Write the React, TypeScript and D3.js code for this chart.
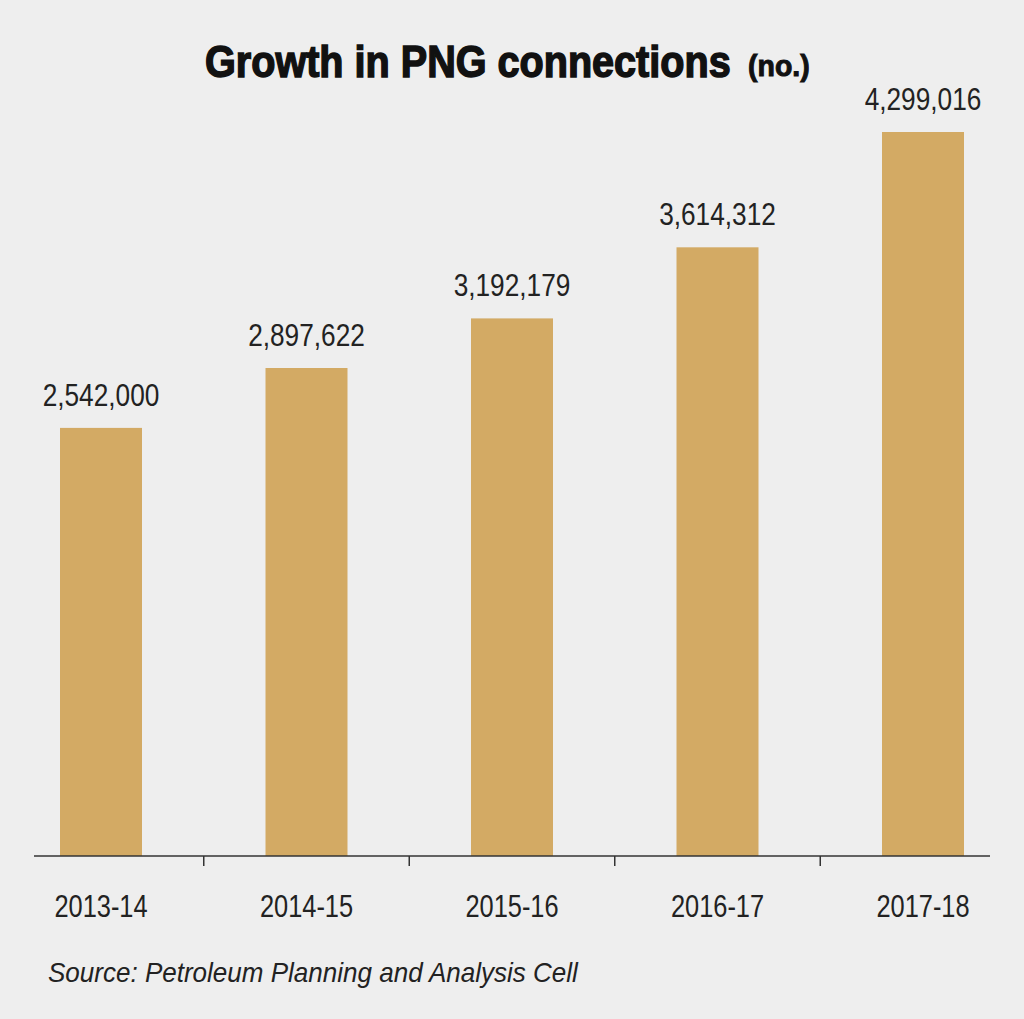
import { useEffect, useRef } from "react";
import * as d3 from "d3";

const years = ["2013-14", "2014-15", "2015-16", "2016-17", "2017-18"];
const connections = [2542000, 2897622, 3192179, 3614312, 4299016];

const title = "Growth in PNG connections";
const titleUnit = "(no.)";
const source = "Source: Petroleum Planning and Analysis Cell";

const W = 1024;
const H = 1019;
const FONT = "'Liberation Sans Narrow', 'Arial Narrow', 'Liberation Sans', Arial, sans-serif";
const NARROW = 0.82; // horizontal squeeze, standing in for a narrow face

export default function App() {
  const svgRef = useRef<SVGSVGElement>(null);

  useEffect(() => {
    const svg = d3.select(svgRef.current);
    svg.selectAll("*").remove(); // redraw from scratch

    const baseY = 856;
    const barW = 82;

    const x = d3.scalePoint<string>().domain(years).range([101, 923]);
    const step = x.step();
    const y = d3
      .scaleLinear()
      .domain([0, d3.max(connections) || 0])
      .range([baseY, 132]);

    svg.append("rect").attr("width", W).attr("height", H).attr("fill", "#eeeeee");

    // Title (squeezed bold face)
    svg
      .append("text")
      .attr("transform", "translate(205,77) scale(0.88,1)")
      .attr("font-family", FONT)
      .attr("font-weight", 700)
      .attr("font-size", 45)
      .attr("fill", "#111")
      .attr("stroke", "#111")
      .attr("stroke-width", 1.5)
      .text(title);
    svg
      .append("text")
      .attr("transform", "translate(748,76) scale(0.95,1)")
      .attr("font-family", FONT)
      .attr("font-weight", 700)
      .attr("font-size", 30)
      .attr("fill", "#111")
      .attr("stroke", "#111")
      .attr("stroke-width", 1)
      .text(titleUnit);

    // Bars
    svg
      .selectAll("rect.bar")
      .data(connections)
      .enter()
      .append("rect")
      .attr("class", "bar")
      .attr("x", (_, i) => (x(years[i]) || 0) - barW / 2)
      .attr("y", (d) => y(d))
      .attr("width", barW)
      .attr("height", (d) => baseY - y(d))
      .attr("fill", "#d3aa64");

    // Value labels
    svg
      .selectAll("text.val")
      .data(connections)
      .enter()
      .append("text")
      .attr("class", "val")
      .attr(
        "transform",
        (d, i) => `translate(${x(years[i]) || 0},${y(d) - 22}) scale(${NARROW},1)`
      )
      .attr("text-anchor", "middle")
      .attr("font-family", FONT)
      .attr("font-size", 32)
      .attr("fill", "#222")
      .text((d) => d3.format(",")(d));

    // X axis: line plus ticks between the bars
    const axis = svg.append("g").attr("stroke", "#333").attr("stroke-width", 1.5);
    axis.append("line").attr("x1", 34).attr("x2", 990).attr("y1", baseY).attr("y2", baseY);
    axis
      .selectAll("line.tick")
      .data(years.slice(1))
      .enter()
      .append("line")
      .attr("class", "tick")
      .attr("x1", (d) => (x(d) || 0) - step / 2)
      .attr("x2", (d) => (x(d) || 0) - step / 2)
      .attr("y1", baseY)
      .attr("y2", baseY + 10);

    svg
      .selectAll("text.cat")
      .data(years)
      .enter()
      .append("text")
      .attr("class", "cat")
      .attr("transform", (d) => `translate(${x(d) || 0},917) scale(${NARROW},1)`)
      .attr("text-anchor", "middle")
      .attr("font-family", FONT)
      .attr("font-size", 31)
      .attr("fill", "#222")
      .text((d) => d);

    // Source
    svg
      .append("text")
      .attr("transform", "translate(48,982) scale(0.93,1)")
      .attr("font-family", FONT)
      .attr("font-style", "italic")
      .attr("font-size", 28)
      .attr("fill", "#222")
      .text(source);
  }, []);

  return (
    <svg
      ref={svgRef}
      width={W}
      height={H}
      style={{ position: "absolute", left: 0, top: 0 }}
    />
  );
}
